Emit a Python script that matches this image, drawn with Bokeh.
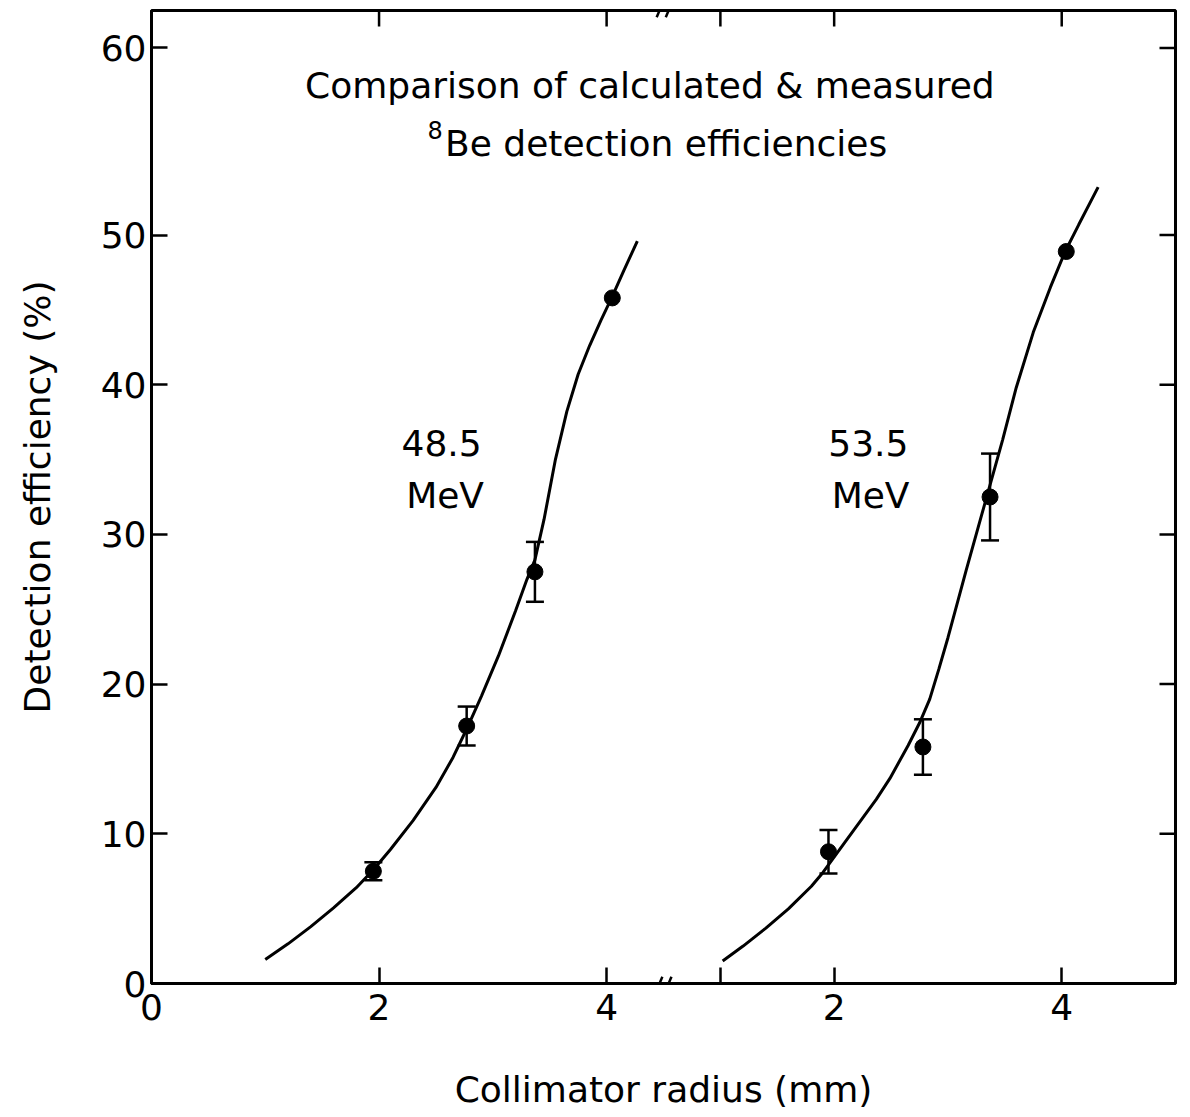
import math
from bokeh.plotting import figure
from bokeh.models import (Range1d, FixedTicker, Label, Whisker,
                          ColumnDataSource, TeeHead, Arrow)
from bokeh.embed import file_html
from bokeh.resources import INLINE

FONT = "DejaVu Sans"

# ---------------- data ----------------
# measured points, 48.5 MeV
r_pts_485 = [1.95, 2.77, 3.37, 4.05]
eff_pts_485 = [7.5, 17.2, 27.5, 45.8]
err_pts_485 = [0.6, 1.3, 2.0, 0.0]
# measured points, 53.5 MeV
r_pts_535 = [1.95, 2.78, 3.37, 4.04]
eff_pts_535 = [8.8, 15.8, 32.5, 48.9]
err_pts_535 = [1.45, 1.85, 2.9, 0.0]

# calculated curves
r_calc_485 = [1.0, 1.2, 1.4, 1.6, 1.8, 1.95, 2.1, 2.3, 2.5, 2.65, 2.77, 2.9,
              3.05, 3.2, 3.3, 3.37, 3.45, 3.55, 3.65, 3.75, 3.85, 3.95, 4.05,
              4.15, 4.27]
eff_calc_485 = [1.6, 2.65, 3.8, 5.05, 6.4, 7.6, 8.95, 10.9, 13.1, 15.1, 17.0, 19.2,
                21.9, 24.9, 27.0, 28.3, 31.0, 35.0, 38.2, 40.7, 42.6, 44.3, 45.9,
                47.6, 49.6]
r_calc_535 = [1.02, 1.2, 1.4, 1.6, 1.8, 1.9, 2.1, 2.37, 2.49, 2.65, 2.75, 2.84,
              2.92, 3.0, 3.16, 3.3, 3.48, 3.6, 3.75, 3.9, 4.03, 4.15, 4.32]
eff_calc_535 = [1.5, 2.5, 3.7, 5.0, 6.5, 7.4, 9.5, 12.3, 13.7, 15.9, 17.4, 19.0,
                21.0, 23.1, 27.6, 31.4, 36.3, 39.8, 43.5, 46.5, 48.9, 50.7, 53.2]

# axis ticks
x_ticks_left = [0, 2, 4]
x_tick_labels_left = ["0", "2", "4"]
x_ticks_right = [1, 2, 4]
x_tick_labels_right = ["", "2", "4"]
y_ticks = [0, 10, 20, 30, 40, 50, 62.5]
y_tick_labels = ["0", "10", "20", "30", "40", "50", "60"]

# ---------------- layout constants ----------------
OFFSET = 4          # right (broken) panel shift along x
X_MAX = 9
Y_MAX = 65
TICK = 16           # inward tick length, px

p = figure(width=1190, height=1117, x_range=Range1d(0, X_MAX), y_range=Range1d(0, Y_MAX),
           output_backend="svg", toolbar_location=None,
           min_border_left=151, min_border_right=15, min_border_top=10, min_border_bottom=134)
p.grid.visible = False
p.outline_line_color = "black"
p.outline_line_width = 3
p.background_fill_color = "white"
p.border_fill_color = "white"

x_ticks = x_ticks_left + [t + OFFSET for t in x_ticks_right]
x_over = dict(zip(x_ticks, x_tick_labels_left + x_tick_labels_right))
y_over = dict(zip(y_ticks, y_tick_labels))


def style_axis(ax):
    ax.axis_line_width = 3
    ax.axis_line_color = "black"
    ax.major_tick_in = TICK
    ax.major_tick_out = 0
    ax.major_tick_line_width = 2.5
    ax.major_tick_line_color = "black"
    ax.minor_tick_line_color = None
    ax.major_label_text_font = FONT
    ax.major_label_text_color = "black"
    ax.major_label_text_font_size = "36px"
    ax.axis_label_text_font = FONT
    ax.axis_label_text_font_size = "36px"
    ax.axis_label_text_font_style = "normal"
    ax.axis_label_text_color = "black"


xb = p.xaxis[0]
xb.ticker = FixedTicker(ticks=x_ticks)
xb.major_label_overrides = x_over
style_axis(xb)
xb.major_label_standoff = 10
xb.axis_label = "Collimator radius (mm)"
xb.axis_label_standoff = 46

yl = p.yaxis[0]
yl.ticker = FixedTicker(ticks=y_ticks)
yl.major_label_overrides = y_over
style_axis(yl)
yl.major_label_standoff = 5
yl.axis_label = "Detection efficiency (%)"
yl.axis_label_standoff = 40

# mirrored inward ticks on the top and right frame edges (half clipped by the frame)
p.scatter(x_ticks, [Y_MAX] * len(x_ticks), marker="dash", angle=math.pi / 2,
          size=2 * TICK, line_width=2.5, line_color="black")
p.scatter([X_MAX] * len(y_ticks), y_ticks, marker="dash", angle=0,
          size=2 * TICK, line_width=2.5, line_color="black")

# ---------------- curves ----------------
p.line(r_calc_485, eff_calc_485, line_width=3, line_color="black")
p.line([r + OFFSET for r in r_calc_535], eff_calc_535, line_width=3, line_color="black")

# ---------------- error bars ----------------
bx, up, lo = [], [], []
for rs, ys, es, off in [(r_pts_485, eff_pts_485, err_pts_485, 0),
                        (r_pts_535, eff_pts_535, err_pts_535, OFFSET)]:
    for r, y, e in zip(rs, ys, es):
        if e > 0:
            bx.append(r + off)
            up.append(y + e)
            lo.append(y - e)
wsrc = ColumnDataSource(dict(base=bx, upper=up, lower=lo))
p.add_layout(Whisker(source=wsrc, base="base", upper="upper", lower="lower",
                     dimension="height", line_width=2.5, line_color="black",
                     upper_head=TeeHead(size=18, line_width=2.5, line_color="black"),
                     lower_head=TeeHead(size=18, line_width=2.5, line_color="black")))

# ---------------- points ----------------
p.scatter(r_pts_485, eff_pts_485, size=16, color="black")
p.scatter([r + OFFSET for r in r_pts_535], eff_pts_535, size=16, color="black")

# ---------------- texts ----------------
def lab(x, y, text, size="36px", align="center"):
    p.add_layout(Label(x=x, y=y, text=text, text_font=FONT, text_font_size=size,
                       text_align=align, text_baseline="middle", text_color="black"))

lab(4.38, 60.0, "Comparison of calculated & measured")
lab(2.58, 56.1, "Be detection efficiencies", align="left")
lab(2.56, 57.0, "8", size="24px", align="right")
lab(2.55, 36.1, "48.5")
lab(2.58, 32.6, "MeV")
lab(6.30, 36.1, "53.5")
lab(6.32, 32.6, "MeV")

# ---------------- axis break marks ----------------
for yb in (0, Y_MAX):
    for xs in (4.44, 4.52):
        p.add_layout(Arrow(end=None, x_start=xs, y_start=yb - 0.45, x_end=xs + 0.05,
                           y_end=yb + 0.45, line_width=2.5, line_color="black"))

open("out.html", "w").write(file_html(p, INLINE))
